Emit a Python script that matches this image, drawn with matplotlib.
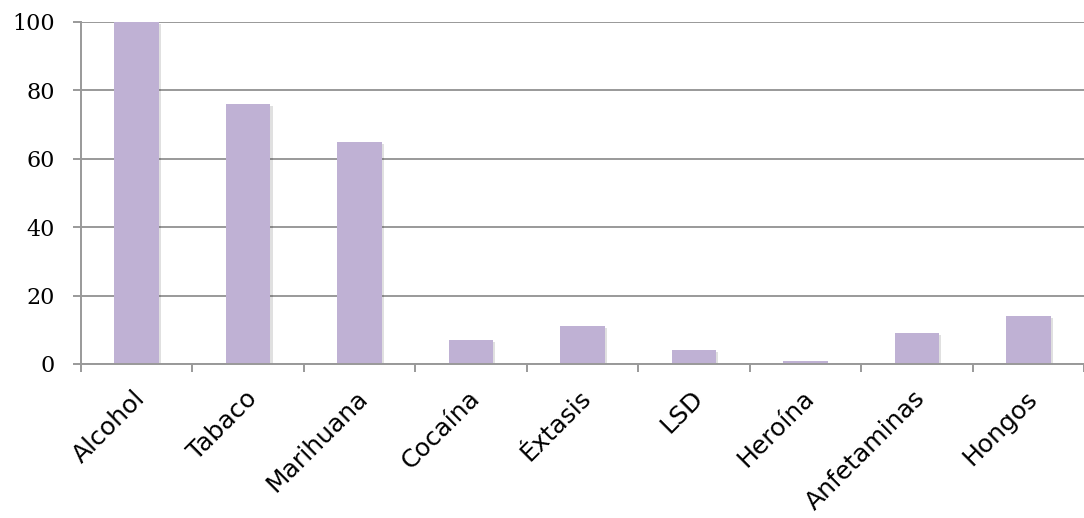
import matplotlib
matplotlib.use("Agg")
import matplotlib.pyplot as plt
import matplotlib.patheffects as pe
import matplotlib.transforms as mtransforms
import numpy as np

categories = ["Alcohol", "Tabaco", "Marihuana", "Cocaína", "Éxtasis",
              "LSD", "Heroína", "Anfetaminas", "Hongos"]
values = [100, 76, 65, 7, 11, 4, 1, 9, 14]
y_ticks = [0, 20, 40, 60, 80, 100]

bar_color = "#BFB1D4"
grid_color = "#999999"

fig = plt.figure(figsize=(10.84, 5.18), dpi=100)
ax = fig.add_axes([81 / 1084, 154 / 518, 1003 / 1084, 342 / 518])

x = np.arange(len(categories))
bars = ax.bar(x, values, width=0.4, color=bar_color, zorder=3)
for b in bars:
    b.set_path_effects([
        pe.SimplePatchShadow(offset=(1.5, -1.5), shadow_rgbFace="#000000", alpha=0.12),
        pe.Normal(),
    ])

ax.set_ylim(0, 100)
ax.set_xlim(-0.5, -0.5 + 1003 / 112.4)
ax.set_yticks(y_ticks)
ax.set_yticklabels([str(v) for v in y_ticks], family="DejaVu Serif", fontsize=16)
ax.yaxis.grid(True, color=grid_color, linewidth=1.4, zorder=0)
ax.tick_params(axis="y", length=6, width=1.4, color=grid_color, pad=13)

ax.set_xticks(x)
ax.set_xticklabels(categories, rotation=45, ha="right", va="center",
                   rotation_mode="anchor", fontsize=18, family="DejaVu Sans")
ax.set_xticks(np.arange(len(categories) + 1) - 0.5, minor=True)
ax.tick_params(axis="x", which="major", length=0, pad=22)
ax.tick_params(axis="x", which="minor", length=6, width=1.4, color=grid_color)

# nudge rotated labels slightly right, like the original
shift = mtransforms.ScaledTranslation(5 / 100, 0, fig.dpi_scale_trans)
for lbl in ax.get_xticklabels():
    lbl.set_transform(lbl.get_transform() + shift)

for side in ["top", "right"]:
    ax.spines[side].set_visible(False)
for side in ["left", "bottom"]:
    ax.spines[side].set_color(grid_color)
    ax.spines[side].set_linewidth(1.4)
ax.spines["bottom"].set_zorder(4)

fig.savefig("out.png", dpi=100)
